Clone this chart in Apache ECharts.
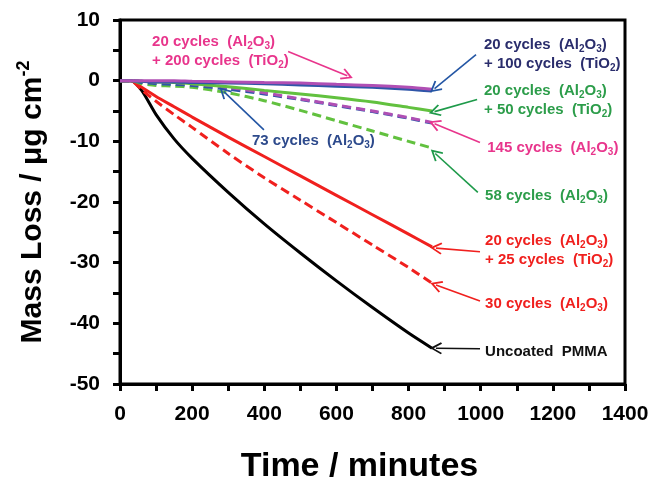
<!DOCTYPE html>
<html>
<head>
<meta charset="utf-8">
<script src="https://cdn.jsdelivr.net/npm/echarts@6/dist/echarts.min.js"></script>
<style>
	html, body { margin: 0; padding: 0; background: #fff; }
	#echart { width: 657px; height: 479px; }
</style>
</head>
<body>
<div id="echart"></div>
<script>
	// time (minutes) and mass loss (ug/cm2)
	var times        = [0, 30, 60, 100, 150, 200, 300, 400, 500, 600, 700, 800, 865];
	var uncoated     = [0, 0, -1.6, -5.6, -9.6, -12.8, -18.4, -23.6, -28.4, -33.0, -37.4, -41.6, -44.1];
	var al30         = [0, 0, -1.5, -3.4, -5.6, -7.7, -12.0, -16.0, -19.7, -23.4, -27.1, -30.8, -33.4];
	var al20ti25     = [0, 0, -1.1, -2.6, -4.3, -6.0, -9.3, -12.5, -15.7, -18.9, -22.1, -25.3, -27.4];
	var al58         = [0, 0, -0.5, -0.8, -0.9, -1.1, -2.0, -3.3, -4.9, -6.6, -8.3, -10.0, -11.1];
	var al73         = [0, 0, -0.3, -0.5, -0.6, -0.8, -1.4, -2.2, -3.1, -4.1, -5.1, -6.2, -7.0];
	var al145        = [0, 0, -0.1, -0.2, -0.3, -0.5, -1.1, -2.0, -3.0, -4.0, -5.0, -6.1, -6.9];
	var al20ti50     = [0, 0, -0.1, -0.2, -0.3, -0.5, -1.0, -1.6, -2.2, -2.8, -3.5, -4.4, -5.0];
	var al20ti100    = [0, 0, -0.1, -0.2, -0.2, -0.3, -0.4, -0.5, -0.7, -0.9, -1.1, -1.4, -1.7];
	var al20ti200    = [0, 0, 0, 0, 0, -0.1, -0.2, -0.3, -0.4, -0.6, -0.8, -1.1, -1.4];

	var xTickLabels = [0, 200, 400, 600, 800, 1000, 1200, 1400];
	var yTickLabels = [10, 0, -10, -20, -30, -40, -50];

	var font = '"Liberation Sans", Arial, sans-serif';
	var AL = '(Al{s|2}O{s|3})';
	var TI = '(TiO{s|2})';

	// annotation text: anchor in data coords (left edge, vertical middle)
	var notes = [
		{ text: '20 cycles  ' + AL + '\n+ 200 cycles  ' + TI, at: [89, 4.9], color: '#e8358c' },
		{ text: '20 cycles  ' + AL + '\n+ 100 cycles  ' + TI, at: [1009, 4.4], color: '#2a2d6c' },
		{ text: '20 cycles  ' + AL + '\n+ 50 cycles  ' + TI, at: [1009, -3.2], color: '#2c9d4a' },
		{ text: '145 cycles  ' + AL, at: [1018, -11.1], color: '#e8358c' },
		{ text: '58 cycles  ' + AL, at: [1012, -19.0], color: '#2c9d4a' },
		{ text: '20 cycles  ' + AL + '\n+ 25 cycles  ' + TI, at: [1012, -27.9], color: '#f0201e' },
		{ text: '30 cycles  ' + AL, at: [1012, -36.8], color: '#f0201e' },
		{ text: 'Uncoated  PMMA', at: [1012, -44.7], color: '#111111' },
		{ text: '73 cycles  ' + AL, at: [366, -9.9], color: '#2d4a8c' }
	];
	var arrows = [
		{ from: [466, 4.8], to: [630, 0.8], color: '#e8358c' },
		{ from: [987, 4.3], to: [872, -1.3], color: '#2456a4' },
		{ from: [990, -3.1], to: [872, -5.1], color: '#1e9a4a' },
		{ from: [998, -10.2], to: [872, -7.1], color: '#e8358c' },
		{ from: [992, -18.4], to: [874, -12.0], color: '#1e9a4a' },
		{ from: [998, -28.2], to: [876, -27.6], color: '#f0201e' },
		{ from: [998, -36.3], to: [876, -33.7], color: '#f0201e' },
		{ from: [998, -44.2], to: [876, -44.1], color: '#111111' },
		{ from: [399, -8.1], to: [288, -1.8], color: '#2456a4' }
	];

	function pairs(vals) {
		return times.map(function (t, i) { return [t, vals[i]]; });
	}
	function line(vals, color, dashed) {
		return {
			type: 'line',
			data: pairs(vals),
			smooth: 0.25,
			showSymbol: false,
			lineStyle: { color: color, width: 3, type: dashed ? [9, 5] : 'solid' }
		};
	}

	var chevron = 'path://M6,0 L12,10 L10.6,11 L6,3.4 L1.4,11 L0,10 Z';

	var myChart = echarts.init(document.getElementById('echart'));
	myChart.setOption({
		animation: false,
		grid: {
			left: 120, right: 32, top: 20, bottom: 95,
			outerBoundsMode: 'none',
			show: true, borderColor: '#000', borderWidth: 3
		},
		xAxis: {
			type: 'value', min: 0, max: 1400, interval: 100,
			name: 'Time / minutes', nameLocation: 'middle', nameGap: 66,
			nameTextStyle: { fontSize: 34, fontWeight: 'bold', fontFamily: font, color: '#000', padding: [0, 26, 0, 0] },
			splitLine: { show: false },
			axisLine: { onZero: false, lineStyle: { color: '#000', width: 3 } },
			axisTick: { inside: false, length: 7, lineStyle: { color: '#000', width: 3 } },
			axisLabel: {
				margin: 20, fontSize: 21, fontWeight: 'bold', fontFamily: font, color: '#000',
				formatter: function (v) { return xTickLabels.indexOf(v) >= 0 ? String(v) : ''; }
			}
		},
		yAxis: {
			type: 'value', min: -50, max: 10, interval: 5,
			name: 'Mass Loss / \u03bcg cm{sup|-2}', nameLocation: 'middle', nameGap: 70,
			nameTextStyle: {
				fontSize: 30, fontWeight: 'bold', fontFamily: font, color: '#000', lineHeight: 35,
				rich: { sup: { fontSize: 18, fontWeight: 'bold', fontFamily: font, color: '#000', verticalAlign: 'top', lineHeight: 35 } }
			},
			splitLine: { show: false },
			axisLine: { onZero: false, lineStyle: { color: '#000', width: 3 } },
			axisTick: { inside: false, length: 7, lineStyle: { color: '#000', width: 3 } },
			axisLabel: {
				margin: 20, fontSize: 21, fontWeight: 'bold', fontFamily: font, color: '#000',
				formatter: function (v) { return yTickLabels.indexOf(v) >= 0 ? String(v) : ''; }
			}
		},
		series: [
			line(uncoated, '#000000', false),
			line(al30, '#f0201e', true),
			line(al20ti25, '#f0201e', false),
			line(al58, '#62c13f', true),
			line(al73, '#2f55a8', true),
			line(al145, '#b04fb4', true),
			line(al20ti50, '#62c13f', false),
			line(al20ti100, '#2f55a8', false),
			line(al20ti200, '#b04fb4', false),
			{
				type: 'line', data: [],
				markLine: {
					silent: true, animation: false,
					symbol: ['none', chevron], symbolSize: [12, 12],
					label: { show: false },
					lineStyle: { width: 1.6, type: 'solid' },
					data: arrows.map(function (a) {
						return [
							{ coord: a.from, lineStyle: { color: a.color, width: 1.6, type: 'solid' }, itemStyle: { color: a.color } },
							{ coord: a.to }
						];
					})
				}
			}
		]
	});

	myChart.setOption({
		graphic: notes.map(function (n) {
			var p = myChart.convertToPixel({ gridIndex: 0 }, n.at);
			return {
				type: 'text', x: p[0], y: p[1], silent: true,
				style: {
					text: n.text, fill: n.color,
					fontSize: 15, fontWeight: 'bold', fontFamily: font, lineHeight: 19,
					align: 'left', verticalAlign: 'middle',
					rich: {
						s: { fontSize: 10, fontWeight: 'bold', fontFamily: font, fill: n.color, verticalAlign: 'bottom', lineHeight: 11 }
					}
				}
			};
		})
	});
</script>
</body>
</html>
